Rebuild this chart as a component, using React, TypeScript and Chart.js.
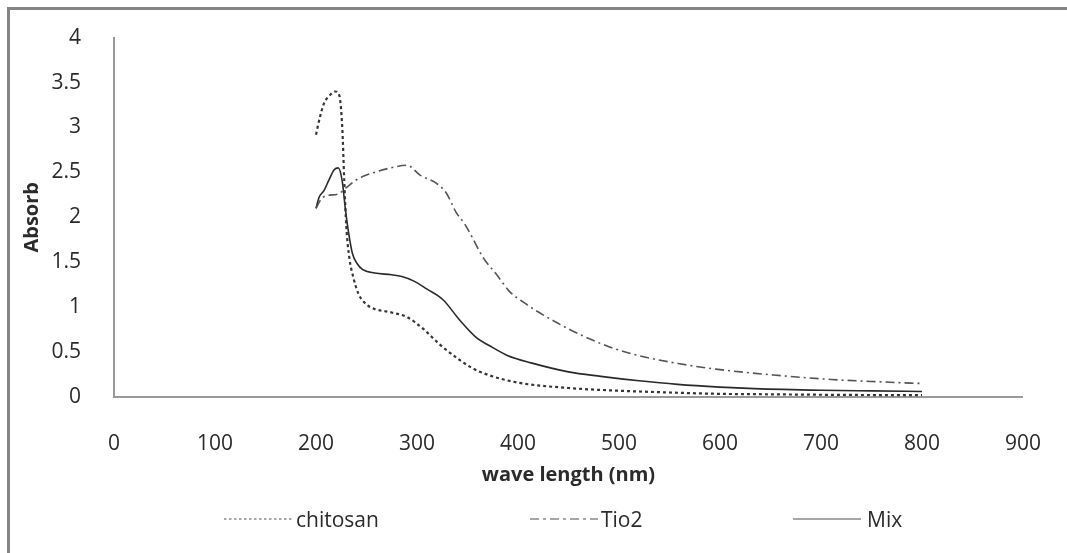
import React, { useEffect, useRef } from "react";
import { Chart, registerables } from "chart.js";

Chart.register(...registerables);

const seriesNames = ["chitosan", "Tio2", "Mix"];

const chitosanWl = [200, 204, 208, 213, 219, 223, 226, 228, 230, 233, 237, 242, 250, 258, 275, 290, 306, 323, 340, 355, 372, 400, 450, 500, 550, 600, 650, 700, 750, 800];
const chitosanAbs = [2.92, 3.12, 3.27, 3.35, 3.4, 3.36, 3.0, 2.4, 1.9, 1.55, 1.33, 1.15, 1.03, 0.98, 0.94, 0.89, 0.76, 0.58, 0.43, 0.32, 0.24, 0.16, 0.1, 0.07, 0.05, 0.035, 0.03, 0.025, 0.022, 0.02];

const tio2Wl = [200, 205, 210, 222, 230, 239, 250, 258, 274, 290, 303, 319, 329, 339, 347, 355, 365, 379, 392, 406, 421, 455, 490, 520, 560, 596, 653, 710, 760, 800];
const tio2Abs = [2.1, 2.2, 2.24, 2.26, 2.33, 2.41, 2.47, 2.5, 2.55, 2.58, 2.47, 2.38, 2.27, 2.05, 1.93, 1.77, 1.56, 1.36, 1.17, 1.05, 0.94, 0.73, 0.56, 0.46, 0.37, 0.31, 0.245, 0.195, 0.168, 0.15];

const mixWl = [200, 203, 208, 213, 218, 222, 226, 229, 232, 236, 241, 246, 258, 275, 285, 297, 310, 326, 342, 358, 375, 390, 413, 450, 482, 520, 558, 600, 634, 700, 750, 800];
const mixAbs = [2.1, 2.22, 2.3, 2.42, 2.53, 2.55, 2.4, 2.1, 1.85, 1.6, 1.48, 1.42, 1.38, 1.36, 1.34, 1.29, 1.2, 1.08, 0.86, 0.67, 0.55, 0.46, 0.38, 0.28, 0.23, 0.18, 0.14, 0.11, 0.093, 0.075, 0.068, 0.062];

const xMin = 0;
const xMax = 900;
const xStep = 100;
const yMin = 0;
const yMax = 4;
const yStep = 0.5;

const xTitle = "wave length (nm)";
const yTitle = "Absorb";

const FONT = "'Open Sans', 'DejaVu Sans', sans-serif";
const TEXT = "#2b2b2b";

const toPts = (xs: number[], ys: number[]) => xs.map((x, i) => ({ x, y: ys[i] }));

function LegendSample({ dash, color, width }: { dash: string; color: string; width: number }) {
  return (
    <svg width={68} height={6} style={{ display: "block" }}>
      <line x1={0} y1={3} x2={68} y2={3} stroke={color} strokeWidth={width} strokeDasharray={dash || undefined} />
    </svg>
  );
}

export default function App() {
  const ref = useRef<HTMLCanvasElement>(null);

  useEffect(() => {
    document.documentElement.style.overflow = "hidden";
    document.body.style.overflow = "hidden";
    const canvas = ref.current;
    if (!canvas) return;
    const chart = new Chart(canvas, {
      type: "line",
      data: {
        datasets: [
          {
            label: seriesNames[0],
            data: toPts(chitosanWl, chitosanAbs),
            borderColor: "#353535",
            borderWidth: 2.2,
            borderDash: [3, 3],
            pointRadius: 0,
            cubicInterpolationMode: "monotone",
            fill: false,
          },
          {
            label: seriesNames[1],
            data: toPts(tio2Wl, tio2Abs),
            borderColor: "#555555",
            borderWidth: 1.6,
            borderDash: [9, 4, 2, 4],
            pointRadius: 0,
            cubicInterpolationMode: "monotone",
            fill: false,
          },
          {
            label: seriesNames[2],
            data: toPts(mixWl, mixAbs),
            borderColor: "#2a2a2a",
            borderWidth: 1.6,
            pointRadius: 0,
            cubicInterpolationMode: "monotone",
            fill: false,
          },
        ],
      },
      options: {
        responsive: false,
        animation: false,
        devicePixelRatio: 1,
        layout: { padding: { top: 37, right: 25, bottom: 56, left: 0 } },
        plugins: {
          legend: { display: false },
          tooltip: { enabled: false },
        },
        scales: {
          x: {
            type: "linear",
            min: xMin,
            max: xMax,
            grid: { display: false },
            border: { display: true, color: "#9a9a9a", width: 2 },
            ticks: {
              stepSize: xStep,
              padding: 26,
              color: TEXT,
              font: { family: FONT, size: 21 },
              maxRotation: 0,
              callback: (v: any) => String(v),
            },
            title: {
              display: true,
              text: xTitle,
              color: TEXT,
              font: { family: FONT, size: 20, weight: "bold" },
              padding: { top: 0, bottom: 10 },
            },
            afterFit: (scale: any) => {
              scale.height = 100;
            },
          },
          y: {
            type: "linear",
            min: yMin,
            max: yMax,
            grid: { display: false },
            border: { display: true, color: "#9a9a9a", width: 2 },
            ticks: {
              stepSize: yStep,
              padding: 25,
              color: TEXT,
              font: { family: FONT, size: 21 },
              callback: (v: any) => String(v),
            },
            title: {
              display: true,
              text: yTitle,
              color: TEXT,
              font: { family: FONT, size: 20, weight: "bold" },
              padding: { top: 20, bottom: 0 },
            },
            afterFit: (scale: any) => {
              scale.width = 114;
            },
          },
        },
      },
    });
    return () => chart.destroy();
  }, []);

  const legendItems = [
    { name: seriesNames[0], lineLeft: 224, textLeft: 296, dash: "2.5 2.5", color: "#8a8a8a", width: 1.6 },
    { name: seriesNames[1], lineLeft: 530, textLeft: 601, dash: "9 4 3 4", color: "#8a8a8a", width: 1.6 },
    { name: seriesNames[2], lineLeft: 793, textLeft: 867, dash: "", color: "#8a8a8a", width: 1.4 },
  ];

  return (
    <div>
      <canvas
        ref={ref}
        width={1067}
        height={553}
        style={{ position: "absolute", left: 0, top: 0, width: 1067, height: 553 }}
      />
      <div
        style={{
          position: "absolute",
          left: 7,
          top: 7,
          width: 1060,
          height: 546,
          borderTop: "3px solid #858585",
          borderLeft: "3px solid #858585",
          boxSizing: "border-box",
          pointerEvents: "none",
        }}
      />
      {legendItems.map((it) => (
        <React.Fragment key={it.name}>
          <div style={{ position: "absolute", left: it.lineLeft, top: 516 }}>
            <LegendSample dash={it.dash} color={it.color} width={it.width} />
          </div>
          <div
            style={{
              position: "absolute",
              left: it.textLeft,
              top: 519,
              transform: "translateY(-50%)",
              fontFamily: FONT,
              fontSize: 21,
              color: TEXT,
              lineHeight: "1",
              whiteSpace: "nowrap",
            }}
          >
            {it.name}
          </div>
        </React.Fragment>
      ))}
    </div>
  );
}
